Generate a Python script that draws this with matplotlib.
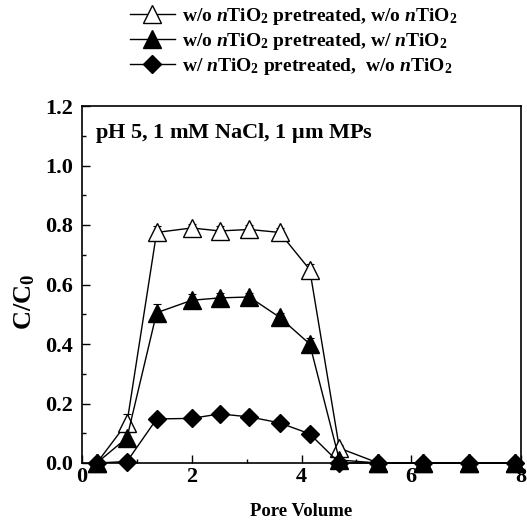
import matplotlib

matplotlib.use('Agg')
from matplotlib import pyplot as plt  # noqa: E402

pore_volume = [0.27, 0.82, 1.36, 2.0, 2.51, 3.05, 3.6, 4.15, 4.69, 5.4, 6.22, 7.05, 7.89]
open_tri = [0.0, 0.135, 0.775, 0.79, 0.78, 0.785, 0.775, 0.65, 0.05, 0.0, 0.0, 0.0, 0.0]
open_tri_err = [0.0, 0.03, 0.02, 0.015, 0.015, 0.015, 0.015, 0.02, 0.01, 0.0, 0.0, 0.0, 0.0]
filled_tri = [0.0, 0.085, 0.505, 0.547, 0.555, 0.558, 0.49, 0.40, 0.01, 0.0, 0.0, 0.0, 0.0]
filled_tri_err = [0.0, 0.02, 0.03, 0.02, 0.015, 0.015, 0.015, 0.02, 0.005, 0.0, 0.0, 0.0, 0.0]
diamond = [0.0, 0.005, 0.148, 0.15, 0.165, 0.155, 0.135, 0.098, 0.0, 0.0, 0.0, 0.0, 0.0]
diamond_err = [0.0, 0.005, 0.01, 0.01, 0.01, 0.01, 0.01, 0.01, 0.0, 0.0, 0.0, 0.0, 0.0]

labels = [
    r'w/o $\mathit{n}$TiO$_2$ pretreated, w/o $\mathit{n}$TiO$_2$',
    r'w/o $\mathit{n}$TiO$_2$ pretreated, w/ $\mathit{n}$TiO$_2$',
    r'w/ $\mathit{n}$TiO$_2$ pretreated,  w/o $\mathit{n}$TiO$_2$',
]

plt.rcParams['font.family'] = 'Liberation Serif'
plt.rcParams['font.weight'] = 'bold'
plt.rcParams['mathtext.fontset'] = 'custom'
plt.rcParams['mathtext.rm'] = 'Liberation Serif:bold'
plt.rcParams['mathtext.it'] = 'Liberation Serif:bold:italic'
plt.rcParams['mathtext.bf'] = 'Liberation Serif:bold'

fig = plt.figure(figsize=(5.27, 5.23), dpi=100)
# axes box: x 82..521 px, y 106..463 px
ax = fig.add_axes([82 / 527, 1 - 463 / 523, 439 / 527, 357 / 523])

series = [
    (open_tri, open_tri_err, '^', 'white', 12.5),
    (filled_tri, filled_tri_err, '^', 'black', 12.5),
    (diamond, diamond_err, 'D', 'black', 9.5),
]
handles = []
for values, errs, marker, face, size in series:
    ax.errorbar(pore_volume, values, yerr=errs, fmt='none', ecolor='black',
                elinewidth=0.8, capsize=3, capthick=0.8, zorder=2)
    line, = ax.plot(pore_volume, values, color='black', lw=1.0, marker=marker,
                    markersize=size, markerfacecolor=face, markeredgecolor='black',
                    markeredgewidth=1.0, clip_on=False, zorder=3)
    handles.append(line)

ax.set_xlim(0, 8)
ax.set_ylim(0, 1.2)
ax.set_xticks([0, 2, 4, 6, 8])
ax.set_xticks([1, 3, 5, 7], minor=True)
ax.set_yticks([0.0, 0.2, 0.4, 0.6, 0.8, 1.0, 1.2])
ax.set_yticks([0.1, 0.3, 0.5, 0.7, 0.9, 1.1], minor=True)
ax.set_yticklabels(['0.0', '0.2', '0.4', '0.6', '0.8', '1.0', '1.2'])
ax.tick_params(which='both', direction='in', labelsize=16, width=1.0)
ax.tick_params(which='major', length=6)
ax.tick_params(which='minor', length=3)
ax.tick_params(axis='y', pad=6.5)
ax.tick_params(axis='x', pad=3)
for spine in ax.spines.values():
    spine.set_linewidth(1.2)

ax.set_xlabel('Pore Volume', fontsize=13.5, fontweight='bold')
ax.xaxis.set_label_coords(0.5, -0.112)
ax.set_ylabel('C/C$_0$', fontsize=19, fontweight='bold', va='center')
ax.yaxis.set_label_coords(-0.13, 0.45)
ax.text(13 / 439, 1 - 27 / 357, r'pH 5, 1 mM NaCl, 1 $\mathrm{\mu}$m MPs',
        transform=ax.transAxes, fontsize=16, fontweight='bold',
        va='center', ha='left')

fig.legend(handles, labels, loc='upper left', bbox_to_anchor=(130 / 527, 1 - 6 / 523),
           frameon=False, fontsize=14, handlelength=2.3, handletextpad=0.4,
           labelspacing=0.2, borderaxespad=0, borderpad=0)

fig.savefig('out.png', dpi=100)
plt.close(fig)
